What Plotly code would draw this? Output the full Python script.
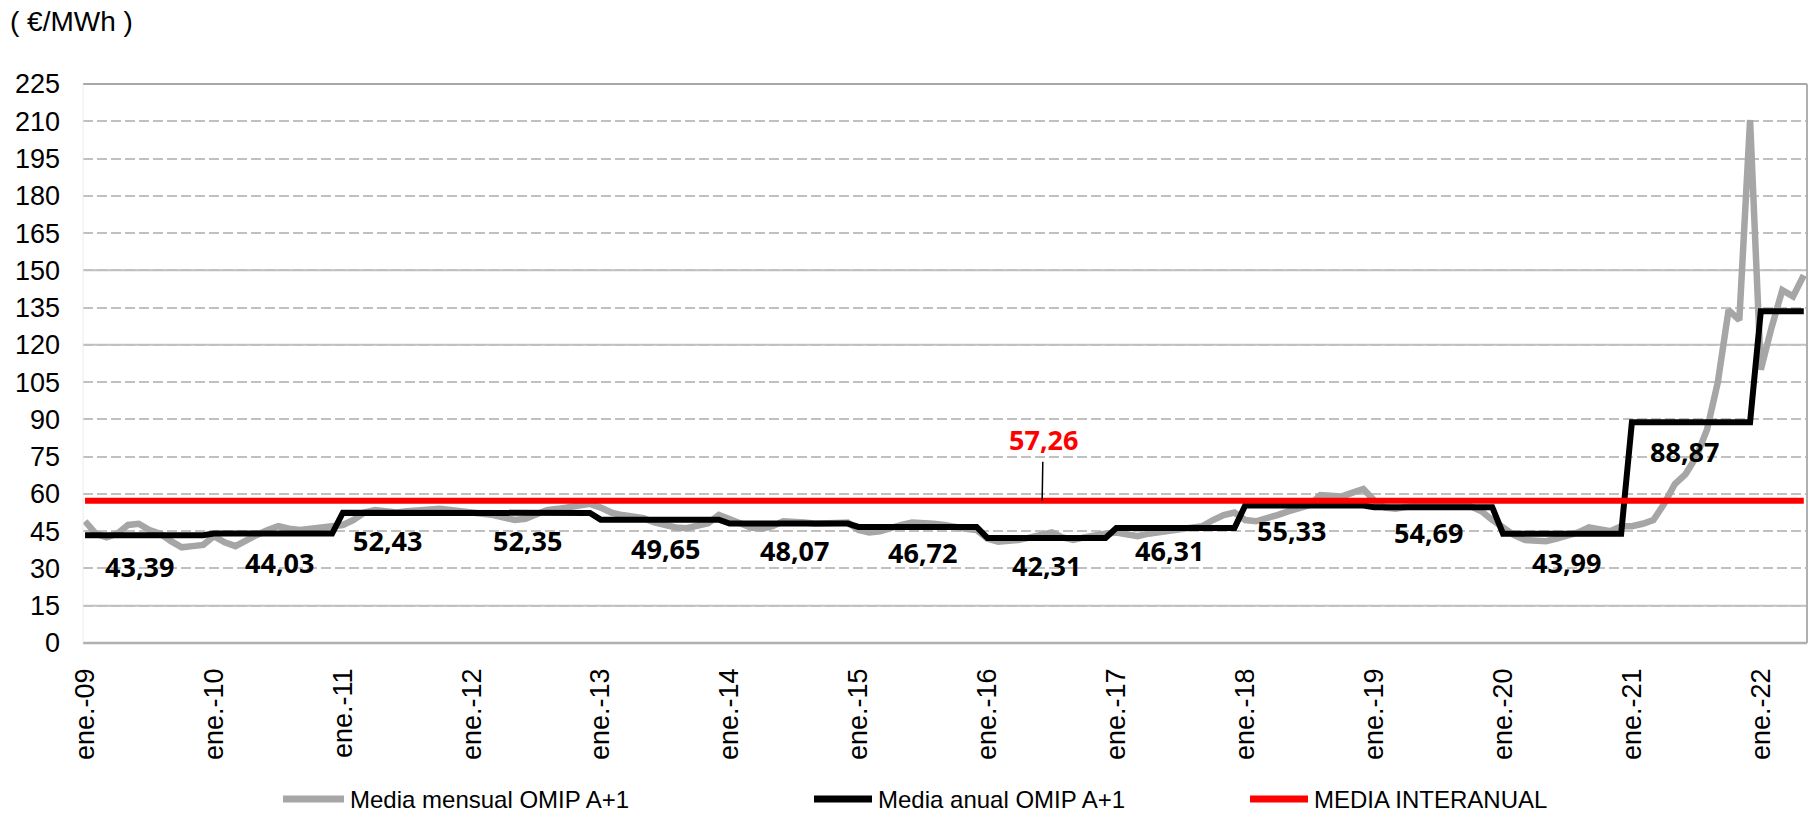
import plotly.graph_objects as go

# ---------------- data ----------------
years = ["09", "10", "11", "12", "13", "14", "15", "16", "17", "18", "19", "20", "21", "22"]

m2009 = [49, 44, 42.5, 44, 47.5, 48, 45.5, 44, 41, 38.5, 39, 39.5]
m2010 = [43, 40.5, 39, 41.5, 43.5, 45.5, 47, 46, 45.5, 46, 46.5, 46.5]
m2011 = [47.5, 49.5, 52.5, 53.5, 53, 52.5, 53, 53.5, 54, 54, 53.5, 53]
m2012 = [53, 52.5, 51.5, 50.5, 49.5, 50, 51.5, 53.5, 54, 54.5, 55, 56]
m2013 = [54.5, 52.5, 51.5, 51, 50.2, 48.5, 47.5, 46.5, 46.2, 47, 48.2, 51.5]
m2014 = [50, 48, 46.5, 46, 47, 49, 49, 48.5, 48, 48, 48, 48.5]
m2015 = [45.5, 44.5, 45, 46.5, 47.5, 48.5, 48.5, 48, 47.5, 46.5, 46, 45.5]
m2016 = [42, 40.8, 41, 41.5, 42.5, 43.5, 44.5, 42.5, 41.5, 42.5, 43.5, 44]
m2017 = [44.5, 43.5, 43, 44, 44.5, 45, 45.5, 46, 47, 49.5, 51.5, 52.5]
m2018 = [49.5, 49, 50, 51.5, 53, 54, 55.5, 59.5, 59.5, 59, 60.5, 62]
m2019 = [57.5, 54.5, 54, 55, 55.5, 56, 56, 56, 55.5, 55, 53, 49.5]
m2020 = [46.5, 43.5, 41.5, 41, 41, 42, 43, 44.5, 46.5, 45.5, 45, 47]
m2021 = [47, 48, 49.5, 56, 64, 68, 75, 86, 105, 134, 130, 210.5]
m2022 = [110, 127, 142, 139.5, 148]

monthly_by_year = [m2009, m2010, m2011, m2012, m2013, m2014, m2015,
                   m2016, m2017, m2018, m2019, m2020, m2021, m2022]

annual = [43.39, 44.03, 52.43, 52.35, 49.65, 48.07, 46.72,
          42.31, 46.31, 55.33, 54.69, 43.99, 88.87, 133.5]
annual_labelled = 13          # the first 13 annual values carry a label

interannual = 57.26

y_ticks = list(range(0, 226, 15))
x_tick_labels = ["ene.-" + y for y in years]

# ---------------- derived series ----------------
monthly = [v for yr in monthly_by_year for v in yr]
annual_monthly = [annual[i] for i, yr in enumerate(monthly_by_year) for _ in yr]
inter_monthly = [interannual] * len(monthly)
N = len(monthly)
xs = list(range(N))

# ---------------- layout geometry (px) ----------------
W, H = 1819, 817
L, R, T, B = 83, 12, 84, 174
PW, PH = W - L - R, H - T - B


def px(xp):
    return (xp - L) / PW


def py(yp):
    return (H - B - yp) / PH


ARIAL = "Liberation Sans, Arial, sans-serif"
LABF = "Open Sans, Liberation Sans, Arial, sans-serif"

fig = go.Figure()
fig.add_trace(go.Scatter(x=xs, y=monthly, mode="lines", name="Media mensual OMIP A+1",
                         line=dict(color="#a6a6a6", width=6.5), showlegend=False))
fig.add_trace(go.Scatter(x=xs, y=annual_monthly, mode="lines", name="Media anual OMIP A+1",
                         line=dict(color="#000000", width=6), showlegend=False))
fig.add_trace(go.Scatter(x=xs, y=inter_monthly, mode="lines", name="MEDIA INTERANUAL",
                         line=dict(color="#ff0000", width=6), showlegend=False))

shapes = []
# solid-looking grid lines
for v in (15, 120, 150):
    shapes.append(dict(type="line", xref="paper", x0=0, x1=1, yref="y", y0=v, y1=v,
                       line=dict(color="#c0c0c0", width=2), layer="below"))
# plot border
shapes.append(dict(type="line", xref="paper", yref="paper", x0=0, x1=1, y0=1, y1=1,
                   line=dict(color="#a8a8a8", width=2)))
shapes.append(dict(type="line", xref="paper", yref="paper", x0=1, x1=1, y0=0, y1=1,
                   line=dict(color="#b0b0b0", width=2)))
shapes.append(dict(type="line", xref="paper", yref="paper", x0=0, x1=1, y0=0, y1=0,
                   line=dict(color="#b0b0b0", width=2.5)))
shapes.append(dict(type="line", xref="paper", yref="paper", x0=0, x1=0, y0=0, y1=1,
                   line=dict(color="#ececec", width=1)))

annotations = []
# annual data labels
label_idx = [5.1, 18.1, 28.2, 41.2, 54.0, 66.0, 78.0, 89.5, 101.0, 112.3, 125.1, 137.9, 148.9]
label_dy = [31, 29, 28, 28, 29, 27, 26, 28, 23, 25, 25, 29, 29]
for i in range(annual_labelled):
    annotations.append(dict(x=label_idx[i], y=annual[i], xref="x", yref="y",
                            text="<b>" + f"{annual[i]:.2f}".replace(".", ",") + "</b>",
                            showarrow=False, yshift=-label_dy[i],
                            font=dict(family=LABF, size=27, color="#000000")))
# interannual label with leader line
annotations.append(dict(x=89.1, y=interannual, xref="x", yref="y",
                        text="<b>" + f"{interannual:.2f}".replace(".", ",") + "</b>",
                        showarrow=True, arrowhead=0, arrowwidth=1.5, arrowcolor="#000000",
                        ax=1, ay=-61, startstandoff=2,
                        font=dict(family=LABF, size=27, color="#ff0000")))
# unit label
annotations.append(dict(x=px(8), y=py(22), xref="paper", yref="paper", xanchor="left",
                        yanchor="middle", text="( €/MWh )", showarrow=False,
                        font=dict(family=ARIAL, size=28, color="#000000")))

# manual legend
leg_y = 799
legend_items = [("Media mensual OMIP A+1", "#a6a6a6", 283, 344, 348),
                ("Media anual OMIP A+1", "#000000", 814, 872, 876),
                ("MEDIA INTERANUAL", "#ff0000", 1250, 1308, 1312)]
for name, col, x0, x1, xt in legend_items:
    shapes.append(dict(type="line", xref="paper", yref="paper", x0=px(x0), x1=px(x1),
                       y0=py(leg_y), y1=py(leg_y), line=dict(color=col, width=7)))
    annotations.append(dict(x=px(xt), y=py(leg_y), xref="paper", yref="paper",
                            xanchor="left", yanchor="middle", text=name, showarrow=False,
                            font=dict(family=ARIAL, size=24, color="#000000")))

fig.update_layout(
    width=W, height=H, autosize=False,
    margin=dict(l=L, r=R, t=T, b=B, pad=0),
    paper_bgcolor="white", plot_bgcolor="white",
    showlegend=False,
    shapes=shapes, annotations=annotations,
    xaxis=dict(range=[-0.19, 160.3], tickmode="array",
               tickvals=[12 * i for i in range(len(years))], ticktext=x_tick_labels,
               tickangle=-90, tickfont=dict(family=ARIAL, size=27, color="#000000"),
               showgrid=False, zeroline=False, showline=False, ticks="",
               ticklabelstandoff=19),
    yaxis=dict(range=[0, 225], tickmode="array", tickvals=y_ticks,
               tickfont=dict(family=ARIAL, size=27, color="#000000"),
               showgrid=True, gridcolor="#c0c0c0", gridwidth=2, griddash="10px,4px",
               zeroline=False, showline=False, ticks="", ticklabelstandoff=22),
)

fig.write_html("out.html", config={"displayModeBar": False},
               post_script="document.body.style.margin='0';document.body.style.overflow='hidden';")
